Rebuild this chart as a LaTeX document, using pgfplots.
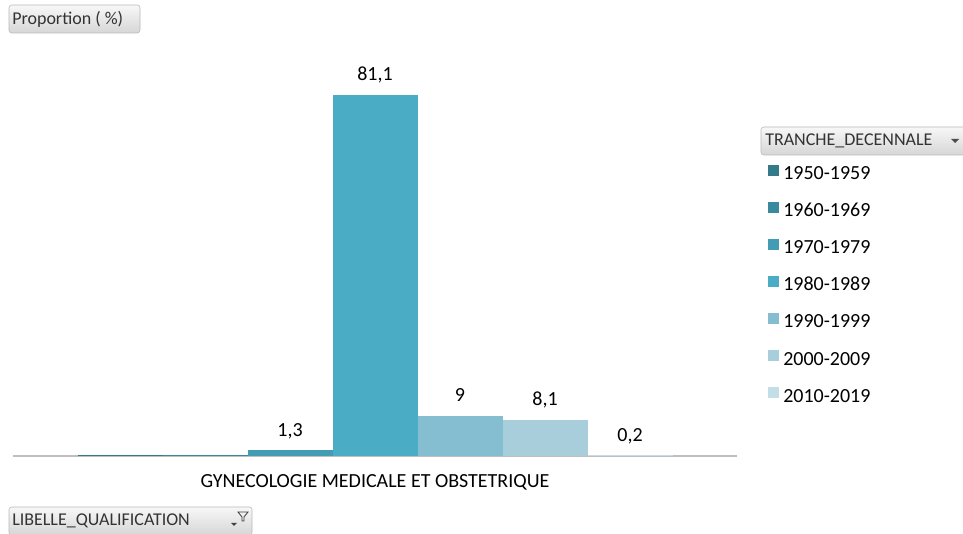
\documentclass[border=0pt]{standalone}
\usepackage{fontspec}
\setmainfont{Carlito}
\usepackage{pgfplots}
\pgfplotsset{compat=1.18}
\definecolor{d1}{RGB}{52,122,138}
\definecolor{d2}{RGB}{58,138,158}
\definecolor{d3}{RGB}{65,156,180}
\definecolor{d4}{RGB}{75,172,198}
\definecolor{d5}{RGB}{132,190,208}
\definecolor{d6}{RGB}{168,206,220}
\definecolor{d7}{RGB}{196,222,232}
\pgfplotsset{sq/.style={legend image code/.code={\fill[##1] (0pt,-1.8pt) rectangle (8.25pt,6.45pt);}}}
\begin{document}
\begin{tikzpicture}[x=0.75pt,y=0.75pt]
\path[use as bounding box, fill=white] (0,0) rectangle (963,534);
\begin{axis}[
    at={(9.75pt,58.5pt)}, anchor=south west, scale only axis,
    width=543pt, height=300.75pt,
    xmin=-0.5, xmax=0.5, ymin=0, ymax=90,
    ybar=0pt, bar width=63.75pt,
    axis x line*=bottom, axis y line=none,
    x axis line style={gray!50, line width=1.1pt},
    xtick={0}, xticklabels={GYNECOLOGIE MEDICALE ET OBSTETRIQUE},
    major tick length=0pt,
    xticklabel style={font=\fontsize{15}{18}\selectfont, inner sep=0pt, anchor=north, yshift=-13.5pt},
    /pgf/number format/use comma,
    /pgf/number format/assume math mode=true,
    every node near coord/.append style={font=\fontsize{15}{18}\selectfont, black, anchor=base, inner sep=0pt, yshift=10.5pt},
    legend style={draw=none, fill=none, inner sep=0pt,
        at={(axis description cs:1.0428,0.7270)}, anchor=north west,
        row sep=16.6pt, column sep=3pt,
        font=\fontsize{15}{18}\selectfont,
        nodes={inner sep=0pt, text height=9.5pt, text depth=0pt}},
    legend cell align=left,
]
\addplot[fill=d1, draw=none, sq] coordinates {(0,0.2)};
\addplot[fill=d2, draw=none, sq] coordinates {(0,0.2)};
\addplot[fill=d3, draw=none, sq, nodes near coords] coordinates {(0,1.3)};
\addplot[fill=d4, draw=none, sq, nodes near coords] coordinates {(0,81.1)};
\addplot[fill=d5, draw=none, sq, nodes near coords] coordinates {(0,9)};
\addplot[fill=d6, draw=none, sq, nodes near coords] coordinates {(0,8.1)};
\addplot[fill=d7, draw=none, sq, nodes near coords] coordinates {(0,0.2)};
\legend{1950-1959,1960-1969,1970-1979,1980-1989,1990-1999,2000-2009,2010-2019}
\draw[gray!50, line width=1.1pt] (rel axis cs:0,0) -- ++(0pt,-5.5pt);
\draw[gray!50, line width=1.1pt] (rel axis cs:1,0) -- ++(0pt,-5.5pt);
\end{axis}
% field buttons
\tikzset{btn/.style={rounded corners=2pt, draw=gray!55, top color=gray!6, bottom color=gray!32}}
\draw[btn] (9,529) rectangle (140,501);
\node[anchor=west, inner sep=0pt, font=\fontsize{13.5}{16}\selectfont, text=black!80] at (12,515) {Proportion ( \%)};
\draw[btn] (761,407) rectangle (970,379);
\node[anchor=west, inner sep=0pt, font=\fontsize{13.5}{16}\selectfont, text=black!80] at (765,393) {TRANCHE\_DECENNALE};
\fill[black!70] (951,395) -- (959,395) -- (955,391) -- cycle;
\draw[btn] (9,27) rectangle (252,-1);
\node[anchor=west, inner sep=0pt, font=\fontsize{13.5}{16}\selectfont, text=black!80] at (12,13) {LIBELLE\_QUALIFICATION};
\fill[black!75] (231,11) -- (237,11) -- (234,8) -- cycle;
\draw[black!75, line width=0.6pt] (238,22) -- (248,22) -- (244,17) -- (244,13) -- (242,13) -- (242,17) -- cycle;
\end{tikzpicture}
\end{document}
